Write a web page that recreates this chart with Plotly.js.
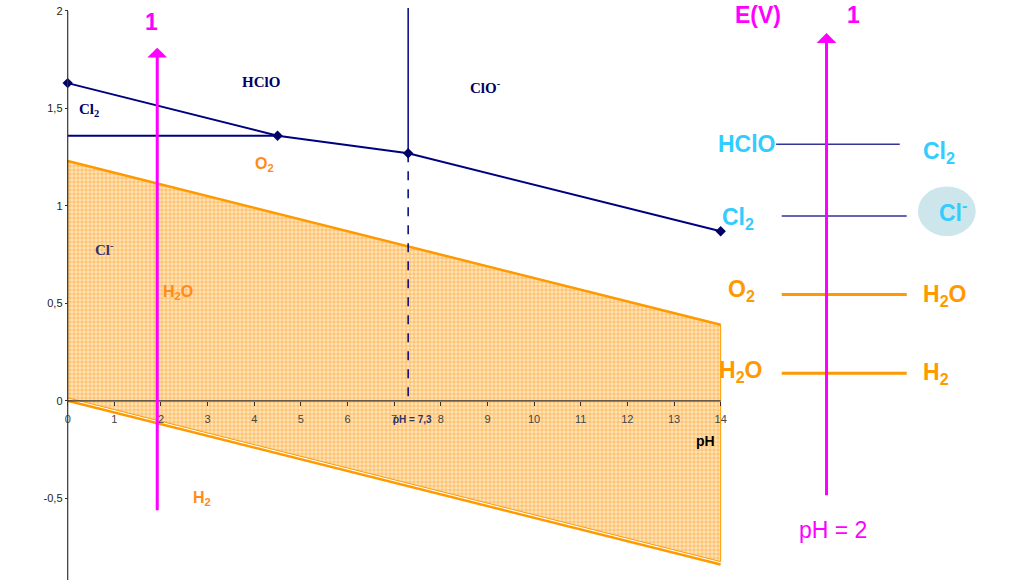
<!DOCTYPE html>
<html>
<head>
<meta charset="utf-8">
<script src="https://cdn.plot.ly/plotly-3.0.1.min.js"></script>
<style>html,body{margin:0;padding:0;background:#fff;}#chart{width:1028px;height:580px;}</style>
</head>
<body>
<div id="chart"></div>
<script>
// ---- E-pH diagram data ----
const xTicks = [0,1,2,3,4,5,6,7,8,9,10,11,12,13,14];
const yTicks = [-0.5, 0, 0.5, 1, 1.5, 2];
const yTickText = ['-0,5', '0', '0,5', '1', '1,5', '2'];

const phWater = [0, 14];
const eO2H2O = [1.23, 0.39];      // O2 / H2O boundary
const eH2OH2 = [0.0, -0.84];      // H2O / H2 boundary
const eFillLow = [0.015, -0.825]; // lower edge of the hatched domain

const phCl = [0, 4.5, 7.3, 14];
const eCl = [1.63, 1.36, 1.27, 0.87];   // HClO/Cl2, HClO/Cl-, ClO-/Cl-
const phCl2 = [0, 4.5];
const eCl2 = [1.36, 1.36];              // Cl2/Cl-
const pKa = 7.3;
const eTop = 2.015;

const phArrow = 1.92;
const eArrowLeft = [-0.569, 1.812];

// ---- right-hand scale (schematic at pH = 2) ----
const scaleX = 16.27;
const eArrowRight = [-0.492, 1.887];
const scaleLevels = [1.316, 0.948, 0.546, 0.141];
const scaleX0 = [15.19, 15.31, 15.31, 15.31];
const scaleX1 = [17.84, 17.99, 17.99, 17.99];
const scaleLeftLabels = ['HClO', 'Cl<sub>2</sub>', 'O<sub>2</sub>', 'H<sub>2</sub>O'];
const scaleRightLabels = ['Cl<sub>2</sub>', 'Cl<sup>-</sup>', 'H<sub>2</sub>O', 'H<sub>2</sub>'];

const NAVY = '#000080';
const ORANGE = '#FF9900';
const ORANGE2 = '#FF8C1A';
const MAG = '#FF00FF';
const CYAN = '#33CCFF';

const traces = [];
// hatched water stability domain
traces.push({
  x: [phWater[0], phWater[1], phWater[1], phWater[0], phWater[0]],
  y: [eO2H2O[0], eO2H2O[1], eFillLow[1], eFillLow[0], eO2H2O[0]],
  mode: 'lines', fill: 'toself',
  fillcolor: '#FFDDA8',
  fillpattern: {shape: '+', size: 4, solidity: 0.3, fgcolor: '#FFAA40', bgcolor: '#FFE3B8'},
  line: {color: ORANGE, width: 1}, hoverinfo: 'skip', showlegend: false
});
traces.push({x: phWater, y: eO2H2O, mode: 'lines', line: {color: ORANGE, width: 2.5}, showlegend: false});
traces.push({x: phWater, y: eH2OH2, mode: 'lines', line: {color: ORANGE, width: 2.5}, showlegend: false});
// chlorine boundaries
traces.push({x: phCl2, y: eCl2, mode: 'lines', line: {color: NAVY, width: 2}, showlegend: false});
traces.push({x: [pKa, pKa], y: [eTop, eCl[2]], mode: 'lines', line: {color: NAVY, width: 1.5}, showlegend: false});
traces.push({x: [pKa, pKa], y: [eCl[2], 0], mode: 'lines', line: {color: NAVY, width: 1.5, dash: 'dash'}, showlegend: false});
traces.push({x: phCl, y: eCl, mode: 'lines+markers', line: {color: NAVY, width: 2},
  marker: {symbol: 'diamond', size: 8, color: '#000066'}, showlegend: false});
// right scale level lines
scaleLevels.forEach((e, i) => {
  traces.push({x: [scaleX0[i], scaleX1[i]], y: [e, e], mode: 'lines',
    line: {color: i < 2 ? '#333399' : ORANGE, width: i < 2 ? 1.5 : 3}, showlegend: false});
});

const ann = [];
function lab(x, y, text, size, color, family, bold) {
  ann.push({x: x, y: y, xref: 'x', yref: 'y', text: bold ? '<b>' + text + '</b>' : text, showarrow: false,
    font: {size: size, color: color, family: family}});
}
const SERIF = 'Liberation Serif, Times New Roman, serif';
const SANS = 'Liberation Sans, Arial, sans-serif';
const NARROW = 'Liberation Sans Narrow, Arial Narrow, Liberation Sans, sans-serif';
lab(4.14, 1.636, 'HClO', 15, '#000066', SERIF, true);
lab(0.46, 1.494, 'Cl<sub>2</sub>', 15, '#000066', SERIF, true);
lab(8.95, 1.61, 'ClO<sup>-</sup>', 15, '#000066', SERIF, true);
lab(0.79, 0.777, 'Cl<sup>-</sup>', 15, '#333366', SERIF, true);
lab(4.21, 1.21, 'O<sub>2</sub>', 16, ORANGE2, NARROW, true);
lab(2.36, 0.555, 'H<sub>2</sub>O', 16, ORANGE2, NARROW, true);
lab(2.88, -0.50, 'H<sub>2</sub>', 16, ORANGE2, NARROW, true);
lab(7.4, -0.094, 'pH = 7,3', 10, '#333366', SANS, true);
lab(13.67, -0.205, 'pH', 14, '#000000', SANS, true);
lab(1.79, 1.944, '1', 23, MAG, SANS, true);
// right scale labels
lab(14.80, 1.979, 'E(V)', 23, MAG, SANS, true);
lab(16.84, 1.979, '1', 23, MAG, SANS, true);
lab(16.41, -0.663, 'pH = 2', 23, MAG, SANS, false);
const leftX = [14.56, 14.38, 14.45, 14.42];
const leftY = [1.32, 0.935, 0.565, 0.152];
const rightX = [18.68, 18.99, 18.80, 18.62];
const rightY = [1.275, 0.972, 0.540, 0.140];
scaleLeftLabels.forEach((t, i) => lab(leftX[i], leftY[i], t, 23, i < 2 ? CYAN : ORANGE, SANS, true));
scaleRightLabels.forEach((t, i) => lab(rightX[i], rightY[i], t, 23, i < 2 ? CYAN : ORANGE, SANS, true));
// arrows
ann.push({x: phArrow, y: eArrowLeft[1], ax: phArrow, ay: eArrowLeft[0], xref: 'x', yref: 'y', axref: 'x', ayref: 'y',
  text: '', showarrow: true, arrowhead: 1, arrowsize: 1.1, arrowwidth: 3, arrowcolor: MAG});
ann.push({x: scaleX, y: eArrowRight[1], ax: scaleX, ay: eArrowRight[0], xref: 'x', yref: 'y', axref: 'x', ayref: 'y',
  text: '', showarrow: true, arrowhead: 1, arrowsize: 1.1, arrowwidth: 3, arrowcolor: MAG});

const yMin = -0.9194, yMax = 2.0564;
const shapes = [
  {type: 'line', xref: 'x', yref: 'y', x0: 0, x1: 14, y0: 0, y1: 0, line: {color: '#333333', width: 1.2}},
  {type: 'line', xref: 'x', yref: 'y', x0: 0, x1: 0, y0: 2, y1: yMin, line: {color: '#333333', width: 1.2}},
  {type: 'circle', xref: 'x', yref: 'y', x0: 18.23, x1: 19.47, y0: 0.845, y1: 1.10,
   fillcolor: '#CCE6EC', line: {width: 0}, layer: 'below'}
];

const layout = {
  width: 1028, height: 580,
  margin: {l: 0, r: 0, t: 0, b: 0},
  paper_bgcolor: '#ffffff', plot_bgcolor: '#ffffff',
  showlegend: false,
  xaxis: {range: [-1.4515, 20.59], domain: [0, 1], anchor: 'free', position: 0.309,
    tickvals: xTicks, ticks: 'outside', ticklen: 4, tickcolor: '#333', showgrid: false, zeroline: false,
    showline: false, ticklabelstandoff: 4, tickfont: {size: 11, color: '#444', family: SANS}},
  yaxis: {range: [yMin, yMax], domain: [0, 1], anchor: 'free', position: 0.0659,
    tickvals: yTicks, ticktext: yTickText, ticks: 'outside', ticklen: 3, tickcolor: '#333',
    showgrid: false, zeroline: false, showline: false, tickfont: {size: 11, color: '#222', family: SANS}},
  annotations: ann,
  shapes: shapes
};

Plotly.newPlot('chart', traces, layout, {staticPlot: true, displayModeBar: false});
</script>
</body>
</html>
